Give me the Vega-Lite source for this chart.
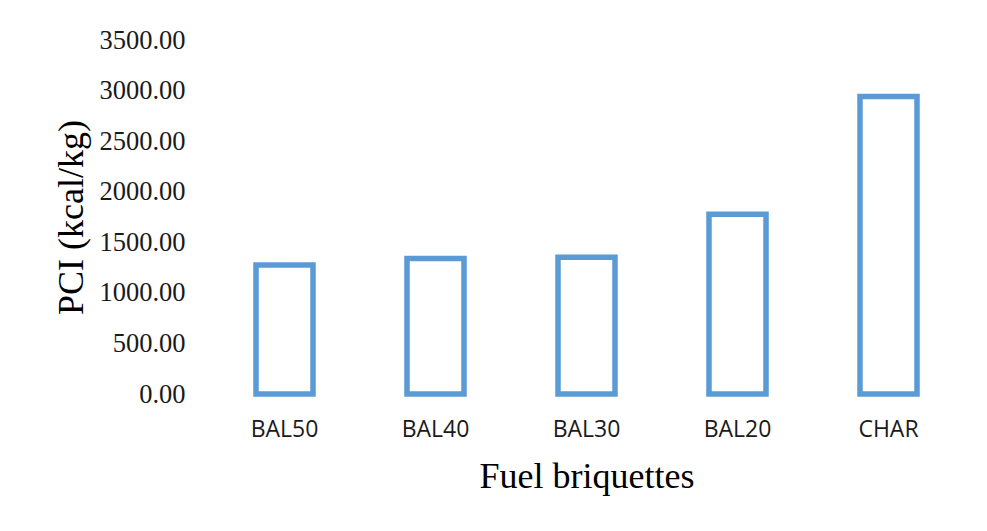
{
  "$schema": "https://vega.github.io/schema/vega-lite/v6.json",
  "autosize": {"type": "none"},
  "width": 755,
  "height": 354,
  "padding": {"left": 209, "top": 40, "right": 23, "bottom": 137},
  "background": "white",
  "config": {"view": {"stroke": null}},
  "data": {
    "values": [
      {"fuel": "BAL50", "pci": 1276},
      {"fuel": "BAL40", "pci": 1339},
      {"fuel": "BAL30", "pci": 1352},
      {"fuel": "BAL20", "pci": 1777},
      {"fuel": "CHAR", "pci": 2941}
    ]
  },
  "mark": {"type": "bar", "fill": "white", "stroke": "#5B9BD5", "strokeWidth": 5.5},
  "encoding": {
    "x": {
      "field": "fuel",
      "type": "nominal",
      "sort": null,
      "scale": {"paddingInner": 0.6225, "paddingOuter": 0.31125},
      "axis": {
        "title": "Fuel briquettes",
        "titleFont": "Liberation Serif",
        "titleFontSize": 36,
        "titleFontWeight": "normal",
        "titleColor": "#000000",
        "titlePadding": 18,
        "labelFont": "Open Sans",
        "labelFontSize": 23,
        "labelColor": "#1a1a1a",
        "labelAngle": 0,
        "labelPadding": 24,
        "domain": false,
        "ticks": false,
        "tickSize": 0,
        "grid": false
      }
    },
    "y": {
      "field": "pci",
      "type": "quantitative",
      "scale": {"domain": [0, 3500], "nice": false},
      "axis": {
        "title": "PCI (kcal/kg)",
        "titleFont": "Liberation Serif",
        "titleFontSize": 36,
        "titleFontWeight": "normal",
        "titleColor": "#000000",
        "titlePadding": 8,
        "values": [0, 500, 1000, 1500, 2000, 2500, 3000, 3500],
        "format": ".2f",
        "labelFont": "Liberation Serif",
        "labelFontSize": 26.5,
        "labelColor": "#1a1a1a",
        "labelPadding": 24,
        "domain": false,
        "ticks": false,
        "tickSize": 0,
        "grid": false
      }
    }
  }
}
